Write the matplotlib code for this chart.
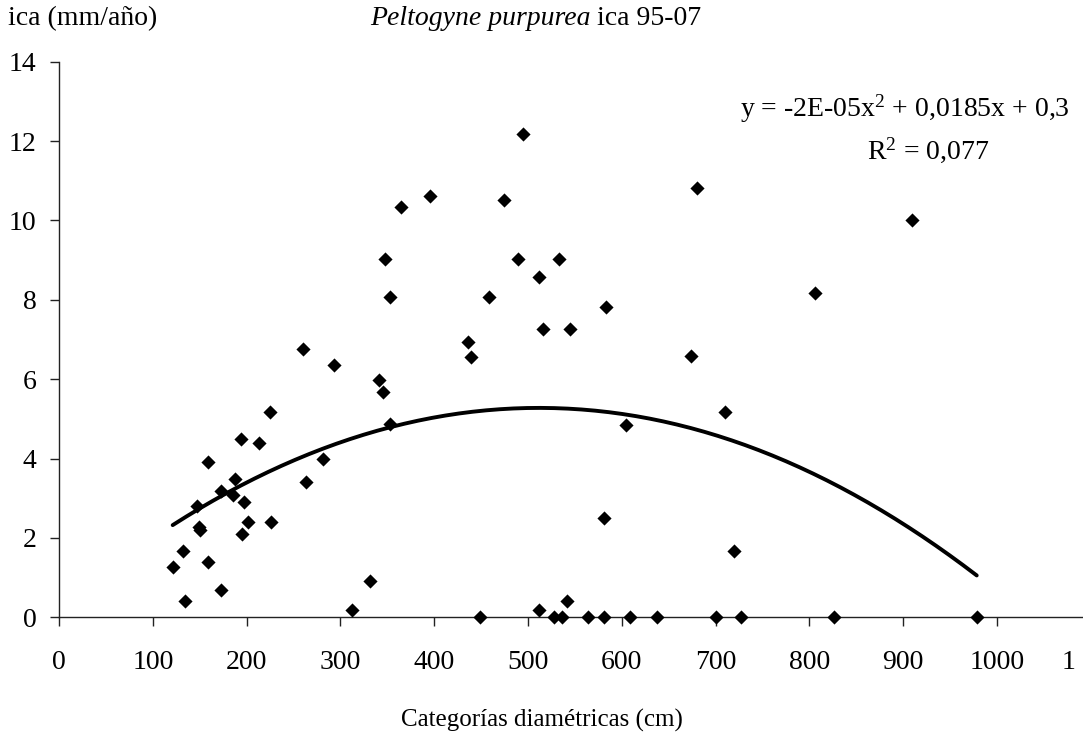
import numpy as np
import matplotlib
matplotlib.use("Agg")
import matplotlib.pyplot as plt
from matplotlib.transforms import ScaledTranslation

plt.rcParams['font.family'] = ['Liberation Serif', 'DejaVu Serif']
plt.rcParams['mathtext.fontset'] = 'custom'
plt.rcParams['mathtext.rm'] = 'Liberation Serif'
plt.rcParams['mathtext.it'] = 'Liberation Serif:italic'

# Diametric category (cm) and increment (mm/año)
diam = [121.2, 134.3, 132.5, 146.8, 149.6, 150.3, 159.2, 159.2, 172.7, 172.7,
        185.8, 187.6, 194.0, 197.2, 195.4, 201.8, 212.9, 224.6, 226.3, 259.6,
        262.8, 281.8, 293.5, 341.2, 345.4, 352.9, 331.9, 312.7, 347.5, 353.2,
        364.6, 395.5, 435.7, 439.2, 474.1, 495.0, 489.3, 533.4, 512.0, 458.7,
        516.3, 544.8, 449.1, 512.0, 528.0, 535.9, 541.3, 564.3, 673.8, 710.0,
        604.5, 581.3, 719.6, 581.3, 608.7, 637.2, 700.4, 727.1, 826.5, 978.4,
        679.8, 909.7, 806.0, 583.2]
ica = [1.27, 0.41, 1.68, 2.80, 2.28, 2.20, 3.91, 1.40, 0.69, 3.19,
       3.08, 3.49, 4.49, 2.90, 2.09, 2.41, 4.40, 5.17, 2.41, 6.75,
       3.40, 3.99, 6.35, 5.98, 5.67, 4.86, 0.91, 0.18, 9.02, 8.06,
       10.34, 10.61, 6.94, 6.57, 10.51, 12.19, 9.02, 9.02, 8.57, 8.06,
       7.26, 7.26, 0.0, 0.18, 0.0, 0.0, 0.42, 0.0, 6.58, 5.17,
       4.85, 2.49, 1.68, 0.0, 0.0, 0.0, 0.0, 0.0, 0.0, 0.0,
       10.83, 10.01, 8.16, 7.83]

x_ticks = [0, 100, 200, 300, 400, 500, 600, 700, 800, 900, 1000, 1100]
x_ticklabels = ['0', '100', '200', '300', '400', '500', '600', '700', '800',
                '900', '1000', '1']
y_ticks = [0, 2, 4, 6, 8, 10, 12, 14]

title_italic = 'Peltogyne purpurea'
title_rest = ' ica 95-07'
y_title = 'ica (mm/año)'
x_title = 'Categorías diamétricas (cm)'
eq_text = 'y = -2E-05x$^{2}$ + 0,0185x + 0,3'
r2_text = 'R$^{2}$ = 0,077'

W, H = 1083, 738
fig = plt.figure(figsize=(W / 100, H / 100), dpi=100)
ax = fig.add_axes([59 / W, 1 - 617.3 / H, 1031.8 / W, 555.6 / H])

x = np.array(diam)
y = np.array(ica)
ax.scatter(x, y, marker='D', s=52, color='black', linewidths=0, zorder=3,
           clip_on=False)

coef = np.polyfit(x, y, 2)
xx = np.linspace(x.min(), x.max(), 60)
ax.plot(xx, np.polyval(coef, xx), color='black', lw=2.8, zorder=2,
        solid_capstyle='round')

ax.set_xlim(0, 1100)
ax.set_ylim(0, 14)
ax.set_xticks(x_ticks)
ax.set_xticklabels(x_ticklabels)
ax.set_yticks(y_ticks)
for s in ['top', 'right']:
    ax.spines[s].set_visible(False)
for s in ['left', 'bottom']:
    ax.spines[s].set_color('#222222')
    ax.spines[s].set_linewidth(1.0)
ax.tick_params(axis='both', direction='out', length=6.3, width=1.0,
               color='#222222', labelsize=20)
ax.tick_params(axis='y', pad=10)
ax.tick_params(axis='x', pad=17)

lbl = ax.get_xticklabels()[-1]
lbl.set_transform(lbl.get_transform() + ScaledTranslation(-0.22, 0, fig.dpi_scale_trans))

fig.text(8 / W, 1 - 25 / H, y_title, fontsize=20, ha='left', va='baseline')
t1 = fig.text(370 / W, 1 - 25 / H, title_italic, fontsize=20, style='italic',
              ha='left', va='baseline')
fig.canvas.draw()
bb = t1.get_window_extent()
fig.text(bb.x1 / W, 1 - 25 / H, title_rest, fontsize=20, ha='left', va='baseline')

fig.text(542 / W, 1 - 727 / H, x_title, fontsize=18, ha='center', va='baseline')
fig.text(740 / W, 1 - 117 / H, eq_text, fontsize=20, ha='left', va='baseline')
fig.text(928 / W, 1 - 159 / H, r2_text, fontsize=20, ha='center', va='baseline')

fig.savefig('out.png', dpi=100)
